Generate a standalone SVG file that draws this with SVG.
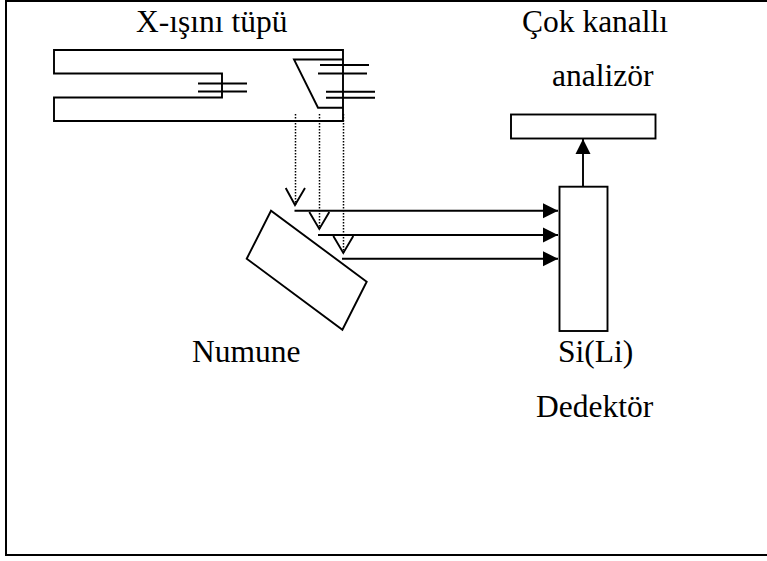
<svg xmlns="http://www.w3.org/2000/svg" width="767" height="561" viewBox="0 0 767 561">
<style>
.s{fill:none;stroke:#000;stroke-width:1.9}
.d{fill:none;stroke:#000;stroke-width:1.5;stroke-dasharray:1.5 1.5}
text{font-family:"Liberation Serif","Times New Roman",serif;font-size:31.5px;fill:#000}
</style>
<defs>
<marker id="a" markerUnits="userSpaceOnUse" markerWidth="16" markerHeight="16" refX="15" refY="8" orient="auto"><path d="M0 .5L15 8L0 15.5Z" fill="#000"/></marker>
</defs>
<rect width="767" height="561" fill="#fff"/>
<path id="frame" d="M767 1H6V555H767" fill="none" stroke="#000" stroke-width="2"/>
<g id="tube">
<path class="s" d="M343 50H54V73.500H222V97.500H54V121H343Z"/>
<path class="s" d="M343 59.500H294L318 107.700H343"/>
<path class="s" d="M198 83.500H247M198 91.500H247M320 65H369M318 73.500H367M326 91.700H375M326 97.700H375"/>
<text x="136" y="32">X-ışını tüpü</text>
</g>
<g id="sample">
<path class="s" d="M271 210.700L246.700 258.700L342.400 329.700L366.700 281.700Z"/>
<text x="192" y="362">Numune</text>
</g>
<g id="analyzer">
<rect class="s" x="511" y="114.500" width="144.500" height="24"/>
<text x="522" y="32">Çok kanallı</text>
<text x="552" y="86">analizör</text>
</g>
<g id="detector">
<rect class="s" x="559.500" y="186.700" width="48" height="144.300"/>
<text x="558" y="362">Si(Li)</text>
<text x="536" y="417">Dedektör</text>
</g>
<g id="connectors">
<path class="d" d="M295.500 114V205M319.500 114V229M343.500 114V253"/>
<path class="s" d="M285.700 188L295 205L305 188M309.300 212L319.300 229L329.300 212M333.300 236L343.300 253L353.300 236"/>
<path class="s" marker-end="url(#a)" d="M294.500 210.700H558"/>
<path class="s" marker-end="url(#a)" d="M318 235H558"/>
<path class="s" marker-end="url(#a)" d="M342 258.700H558"/>
<path class="s" marker-end="url(#a)" d="M583 186.700V139"/>
</g>
</svg>
